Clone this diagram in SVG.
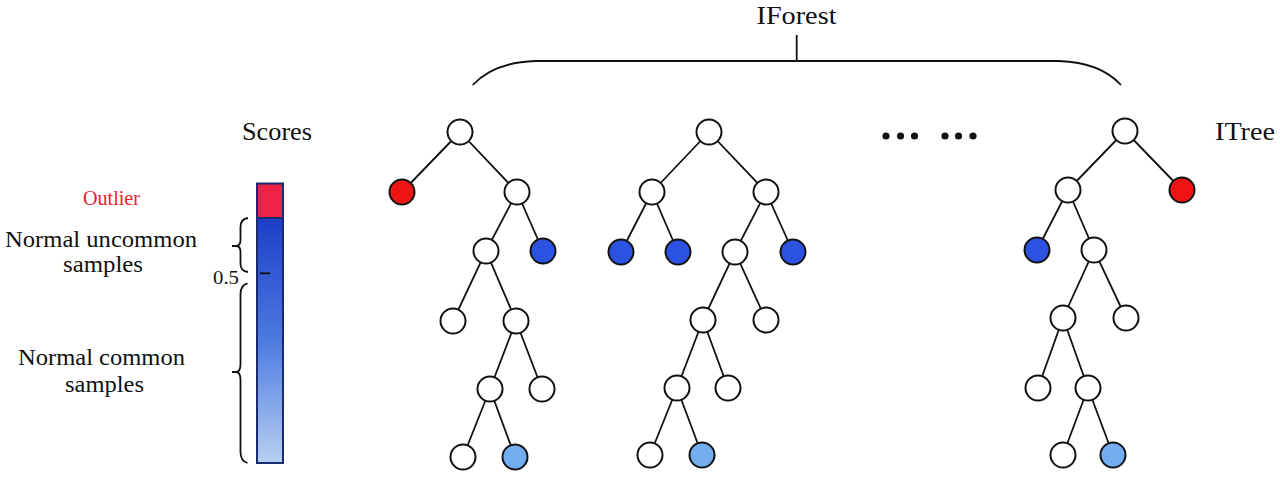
<svg xmlns="http://www.w3.org/2000/svg" width="1280" height="481" viewBox="0 0 1280 481">
<style>
.t{font-family:"Liberation Serif","Times New Roman",serif;fill:#111;}
.e line{stroke:#111;stroke-width:1.8;}
.w{fill:#fff;stroke:#111;stroke-width:2;}
.r{fill:#ee1414;stroke:#111;stroke-width:2;}
.b{fill:#2b52e0;stroke:#111;stroke-width:2;}
.lb{fill:#72adef;stroke:#111;stroke-width:2;}
.br{fill:none;stroke:#111;stroke-width:1.8;}
</style>
<defs>
<linearGradient id="g" x1="0" y1="0" x2="0" y2="1">
<stop offset="0" stop-color="#1d3ec8"/>
<stop offset="0.5" stop-color="#4d7ae0"/>
<stop offset="1" stop-color="#b8d0f2"/>
</linearGradient>
</defs>
<rect width="1280" height="481" fill="#fff"/>

<g id="iforest-label">
<text class="t" x="796.5" y="24" font-size="26" text-anchor="middle" textLength="80" lengthAdjust="spacingAndGlyphs">IForest</text>
<path class="br" d="M796.7,35 L796.7,61 M535,61 L1059,61 M535,61 C505,62 485,72 472.7,85 M1059,61 C1089,62 1109,72 1121,85"/>
</g>

<g id="scores-label"><text class="t" x="242" y="139.5" font-size="25" textLength="70" lengthAdjust="spacingAndGlyphs">Scores</text></g>
<g id="itree-label"><text class="t" x="1215" y="139.5" font-size="25" textLength="60" lengthAdjust="spacingAndGlyphs">ITree</text></g>
<g id="dots">
<circle cx="886" cy="136" r="3.6" fill="#111"/><circle cx="900.5" cy="136" r="3.6" fill="#111"/><circle cx="914.5" cy="136" r="3.6" fill="#111"/>
<circle cx="945" cy="136" r="3.6" fill="#111"/><circle cx="958.5" cy="136" r="3.6" fill="#111"/><circle cx="973" cy="136" r="3.6" fill="#111"/>
</g>

<g id="score-bar">
<rect x="257" y="218" width="26" height="245" fill="url(#g)" stroke="#1a2a70" stroke-width="2"/>
<rect x="257" y="183.5" width="26" height="34.5" fill="#ee2244" stroke="#1a2a70" stroke-width="2"/>
<line x1="260" y1="273.3" x2="270" y2="273.3" stroke="#111" stroke-width="1.8"/>
</g>
<g id="score-labels">
<text x="83" y="205" font-size="20" font-family="Liberation Serif, serif" fill="#e8202e" textLength="57" lengthAdjust="spacingAndGlyphs">Outlier</text>
<text class="t" x="5" y="247.3" font-size="24" textLength="192" lengthAdjust="spacingAndGlyphs">Normal uncommon</text>
<text class="t" x="63" y="271.7" font-size="24" textLength="80" lengthAdjust="spacingAndGlyphs">samples</text>
<text class="t" x="213" y="284" font-size="18" textLength="26" lengthAdjust="spacingAndGlyphs">0.5</text>
<text class="t" x="18" y="365" font-size="24" textLength="167" lengthAdjust="spacingAndGlyphs">Normal common</text>
<text class="t" x="65" y="391.7" font-size="24" textLength="79" lengthAdjust="spacingAndGlyphs">samples</text>
<path class="br" d="M248,218 Q240.5,219 240.5,227 L240.5,240 Q240.5,246 236,246 M232,246 L238,246 M236,246 Q240.5,246 240.5,252 L240.5,264 Q240.5,271 248,272"/>
<path class="br" d="M247.5,283.3 Q240.5,285 240.5,294 L240.5,364 Q240.5,372 236,372 M232,372 L238,372 M236,372 Q240.5,372 240.5,380 L240.5,452 Q240.5,461 247.5,463"/>
</g>

<g id="connectors" class="e">
<line x1="460" y1="132" x2="402" y2="192"/><line x1="460" y1="132" x2="517" y2="192"/>
<line x1="517" y1="192" x2="486" y2="251"/><line x1="517" y1="192" x2="543" y2="251"/>
<line x1="486" y1="251" x2="453" y2="321"/><line x1="486" y1="251" x2="516" y2="321"/>
<line x1="516" y1="321" x2="490" y2="389"/><line x1="516" y1="321" x2="542" y2="389"/>
<line x1="490" y1="389" x2="463" y2="457"/><line x1="490" y1="389" x2="515" y2="457"/>

<line x1="709" y1="132" x2="652" y2="192"/><line x1="709" y1="132" x2="766" y2="192"/>
<line x1="652" y1="192" x2="621" y2="252"/><line x1="652" y1="192" x2="678" y2="252"/>
<line x1="766" y1="192" x2="735" y2="252"/><line x1="766" y1="192" x2="793" y2="252"/>
<line x1="735" y1="252" x2="703" y2="320"/><line x1="735" y1="252" x2="766" y2="320"/>
<line x1="703" y1="320" x2="677" y2="388"/><line x1="703" y1="320" x2="728" y2="388"/>
<line x1="677" y1="388" x2="650" y2="455"/><line x1="677" y1="388" x2="702" y2="455"/>

<line x1="1125" y1="131" x2="1068" y2="190"/><line x1="1125" y1="131" x2="1182" y2="190"/>
<line x1="1068" y1="190" x2="1037" y2="250"/><line x1="1068" y1="190" x2="1094" y2="250"/>
<line x1="1094" y1="250" x2="1063" y2="318"/><line x1="1094" y1="250" x2="1126" y2="318"/>
<line x1="1063" y1="318" x2="1038" y2="388"/><line x1="1063" y1="318" x2="1088" y2="388"/>
<line x1="1088" y1="388" x2="1063" y2="455"/><line x1="1088" y1="388" x2="1113" y2="455"/>
</g>

<g id="tree1">
<circle id="a1" class="w" cx="460" cy="132" r="12.5"/>
<circle id="a2" class="r" cx="402" cy="192" r="12.5"/>
<circle id="a3" class="w" cx="517" cy="192" r="12.5"/>
<circle id="a4" class="w" cx="486" cy="251" r="12.5"/>
<circle id="a5" class="b" cx="543" cy="251" r="12.5"/>
<circle id="a6" class="w" cx="453" cy="321" r="12.5"/>
<circle id="a7" class="w" cx="516" cy="321" r="12.5"/>
<circle id="a8" class="w" cx="490" cy="389" r="12.5"/>
<circle id="a9" class="w" cx="542" cy="389" r="12.5"/>
<circle id="a10" class="w" cx="463" cy="457" r="12.5"/>
<circle id="a11" class="lb" cx="515" cy="457" r="12.5"/>
</g>
<g id="tree2">
<circle id="b1" class="w" cx="709" cy="132" r="12.5"/>
<circle id="b2" class="w" cx="652" cy="192" r="12.5"/>
<circle id="b3" class="w" cx="766" cy="192" r="12.5"/>
<circle id="b4" class="b" cx="621" cy="252" r="12.5"/>
<circle id="b5" class="b" cx="678" cy="252" r="12.5"/>
<circle id="b6" class="w" cx="735" cy="252" r="12.5"/>
<circle id="b7" class="b" cx="793" cy="252" r="12.5"/>
<circle id="b8" class="w" cx="703" cy="320" r="12.5"/>
<circle id="b9" class="w" cx="766" cy="320" r="12.5"/>
<circle id="b10" class="w" cx="677" cy="388" r="12.5"/>
<circle id="b11" class="w" cx="728" cy="388" r="12.5"/>
<circle id="b12" class="w" cx="650" cy="455" r="12.5"/>
<circle id="b13" class="lb" cx="702" cy="455" r="12.5"/>
</g>
<g id="tree3">
<circle id="c1" class="w" cx="1125" cy="131" r="12.5"/>
<circle id="c2" class="w" cx="1068" cy="190" r="12.5"/>
<circle id="c3" class="r" cx="1182" cy="190" r="12.5"/>
<circle id="c4" class="b" cx="1037" cy="250" r="12.5"/>
<circle id="c5" class="w" cx="1094" cy="250" r="12.5"/>
<circle id="c6" class="w" cx="1063" cy="318" r="12.5"/>
<circle id="c7" class="w" cx="1126" cy="318" r="12.5"/>
<circle id="c8" class="w" cx="1038" cy="388" r="12.5"/>
<circle id="c9" class="w" cx="1088" cy="388" r="12.5"/>
<circle id="c10" class="w" cx="1063" cy="455" r="12.5"/>
<circle id="c11" class="lb" cx="1113" cy="455" r="12.5"/>
</g>
</svg>
